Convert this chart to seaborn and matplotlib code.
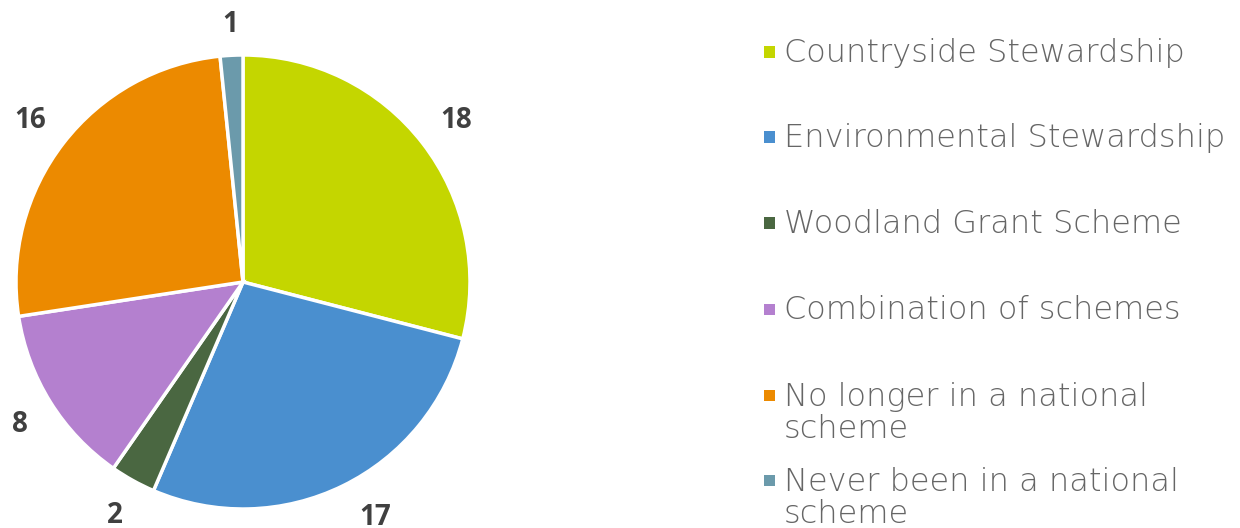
import matplotlib
matplotlib.use("Agg")
import numpy as np
import matplotlib.pyplot as plt
import seaborn as sns
from matplotlib.patches import Rectangle

categories = ["Countryside Stewardship", "Environmental Stewardship", "Woodland Grant Scheme",
              "Combination of schemes", "No longer in a national\nscheme", "Never been in a national\nscheme"]
values = [18, 17, 2, 8, 16, 1]
colors = ["#C4D600", "#4A8FCF", "#4A6741", "#B480CF", "#EC8A00", "#6B9AAB"]

sns.set_theme(style="white")
plt.rcParams['font.family'] = ['DejaVu Sans']

W, H = 1240, 528
fig = plt.figure(figsize=(W/100, H/100), dpi=100)
R_PX = 227
AX_BOTTOM = 19
ax = fig.add_axes([16/W, AX_BOTTOM/H, 2*R_PX/W, 2*R_PX/H])
wedges, texts = ax.pie(values, labels=[str(v) for v in values], colors=colors,
                       startangle=90, counterclock=False, labeldistance=1.15,
                       wedgeprops=dict(edgecolor="white", linewidth=2.5),
                       textprops=dict(fontsize=20, fontweight="bold", color="#404040",
                                      family=["Open Sans", "DejaVu Sans"]))
ax.set_xlim(-1, 1); ax.set_ylim(-1, 1)
ax.set_aspect("equal")
ax.axis("off")

# place labels outside end with a constant gap from the rim (Excel-like),
# sliding along the ring when a label would run off the bottom edge
fig.canvas.draw()
renderer = fig.canvas.get_renderer()
gap = 23
digit_h = 22
min_center_px = 14
y_min = (min_center_px - (AX_BOTTOM + R_PX)) / R_PX
for w, t in zip(wedges, texts):
    t.set_ha("center"); t.set_va("center_baseline"); t.set_clip_on(False)
    ang = np.deg2rad((w.theta1 + w.theta2) / 2)
    ux, uy = np.cos(ang), np.sin(ang)
    bb = t.get_window_extent(renderer)
    ext = abs(ux) * bb.width / 2 + abs(uy) * digit_h / 2
    d = 1 + (gap + ext) / R_PX
    x, y = d * ux, d * uy
    if y < y_min:
        y = y_min
        x = np.sign(ux) * np.sqrt(max(d**2 - y**2, 0))
    t.set_position((x, y))

# legend
baselines = [62, 147, 233, 319, 405, 490]
line_h = 33
for lab, col, b in zip(categories, colors, baselines):
    n = lab.count("\n")
    fig.add_artist(Rectangle((764/W, 1 - (b - 4.5)/H), 11/W, 11/H,
                             transform=fig.transFigure, color=col, lw=0))
    fig.text(784/W, 1 - (b + n * line_h)/H, lab, fontsize=23, fontweight=200,
             color="#666666", ha="left", va="baseline", linespacing=1.09)

fig.savefig("out.png", dpi=100, facecolor="white")
